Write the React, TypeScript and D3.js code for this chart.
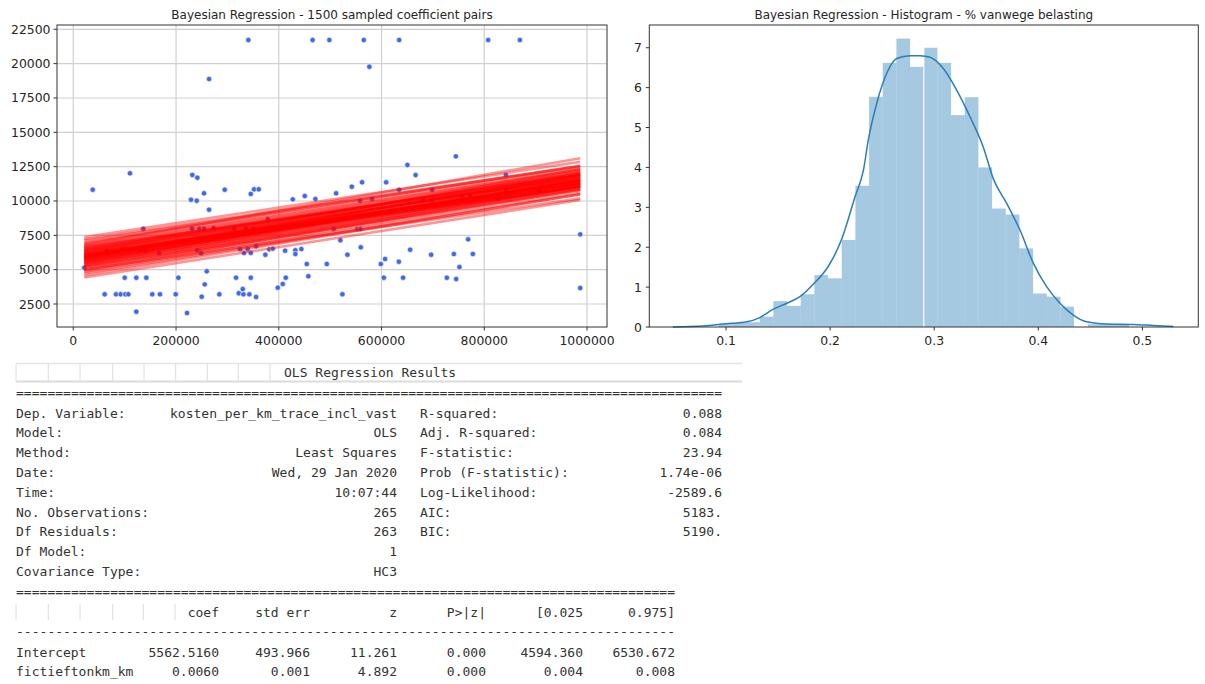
import React from 'react';
import * as d3 from 'd3';

// ---------- Scatter data (fictieftonkm_km vs kosten_per_km_trace_incl_vast) ----------
const costX = [
  110400, 231700, 241500, 264300, 340800, 465800, 498500, 565500, 576400, 634300,
  807600, 869300, 744700, 650400, 666400, 842100, 37800, 254500, 229200, 240300,
  264300, 294800, 345500, 351900, 361000, 427300, 471300, 136300, 231200, 245400,
  254500, 273400, 313500, 378600, 336300, 350500, 394700, 65000, 95400, 129900,
  141000, 166900, 241500, 248700, 324600, 332400, 339600, 345500, 355800, 373900,
  381700, 388300, 412300, 432300, 432300, 444000, 454500, 457600, 493500, 21400,
  259800, 255900, 100100, 122700, 142200, 204500, 316800, 345500, 413600, 61100,
  83200, 92300, 101300, 107100, 153800, 168800, 199400, 250000, 284300, 322100,
  329900, 331100, 342700, 355800, 122700, 221400, 398000, 407800, 562200, 542200,
  609000, 511600, 450600, 558300, 581700, 634300, 698500, 681600, 698500, 756400,
  772500, 827100, 842600, 906300, 507100, 553100, 558900, 519900, 768600, 986800,
  533600, 559700, 655700, 607000, 598600, 633700, 696600, 740800, 777800, 751700,
  604500, 642000, 727200, 745300, 523900, 986800,
];
const costY = [
  12015, 11900, 11695, 18880, 21720, 21720, 21720, 21720, 19775, 21720,
  21720, 21720, 13250, 12620, 11890, 11890, 10820, 10560, 10090, 10020,
  9365, 10820, 10510, 10850, 10850, 10120, 10144, 7980, 7980, 7980,
  7980, 8030, 7980, 8670, 7980, 7980, 7980, 6340, 6500, 6430,
  6340, 6210, 6410, 6210, 6480, 6210, 6500, 6210, 6700, 6090,
  6480, 6530, 6380, 6410, 6140, 6500, 5410, 4520, 5410, 5140,
  4880, 3930, 4415, 4415, 4415, 4415, 4415, 4415, 4415, 3206,
  3206, 3206, 3206, 3206, 3206, 3206, 3206, 3030, 3206, 3280,
  3590, 3206, 3206, 3010, 1940, 1845, 3690, 3960, 11360, 11040,
  11360, 10560, 10360, 10020, 10144, 10820, 10820, 10144, 10070, 10380,
  10380, 10144, 10820, 10820, 7960, 7960, 7960, 7140, 7210, 7570,
  6090, 6630, 6450, 5780, 5410, 5580, 6090, 6140, 6140, 5190,
  4415, 4415, 4415, 4320, 3206, 3665,
];

// ---------- Sampled posterior coefficient pairs (subset shown) ----------
const sampleIntercepts = [
  5850, 5550, 6400, 4900, 6150, 5700, 6850, 5250, 6000, 5400,
  6550, 4600, 5800, 6250, 5600, 6700, 5100, 5950, 5500, 7250,
  5750, 6300, 5000, 6100, 5350, 5900, 4800, 6450, 5650, 6200,
  5200, 7000, 5450, 6050, 4300, 6350, 5775, 6600, 5300, 5875,
  4450, 6025, 5625, 6500, 5150, 5925, 5725, 6800, 4850, 6125,
  5525, 6650, 5375, 5825, 5050, 6275, 5675, 7100, 4700, 5975,
];
const sampleSlopes = [
  0.005704, 0.006104, 0.005847, 0.005363, 0.006018, 0.005619, 0.005790, 0.006332, 0.005505, 0.005904,
  0.005163, 0.005961, 0.006161, 0.005733, 0.005562, 0.006503, 0.005819, 0.005420, 0.006047, 0.005676,
  0.006246, 0.005762, 0.005876, 0.004992, 0.005990, 0.005534, 0.006075, 0.005648, 0.006389, 0.005477,
  0.005933, 0.005591, 0.006189, 0.005306, 0.005861, 0.005747, 0.006645, 0.005690, 0.005804, 0.005249,
  0.006132, 0.005776, 0.005918, 0.005448, 0.006032, 0.005078, 0.005833, 0.005662, 0.006275, 0.005605,
  0.005890, 0.005719, 0.006446, 0.005391, 0.005947, 0.005576, 0.006218, 0.005519, 0.005975, 0.005334,
];

// ---------- Histogram of "% vanwege belasting" ----------
const histStart = 0.093;
const histBinWidth = 0.01313;
const histDensity = [
  0.07, 0.1, 0.12, 0.26, 0.65, 0.53, 0.82, 1.3, 1.22, 2.18,
  3.54, 5.77, 6.62, 7.23, 6.52, 7.0, 6.62, 5.31, 5.76, 4.0,
  2.97, 2.82, 1.97, 0.84, 0.76, 0.51, 0, 0.07, 0.07, 0.07,
];
const kdeX = [
  0.049, 0.078, 0.1, 0.12, 0.132, 0.145, 0.158, 0.171, 0.1845, 0.198,
  0.2108, 0.224, 0.232, 0.2367, 0.2448, 0.2544, 0.264, 0.2768, 0.2864, 0.296,
  0.3087, 0.3216, 0.3344, 0.347, 0.357, 0.3696, 0.3824, 0.3952, 0.408, 0.421,
  0.4336, 0.4465, 0.4657, 0.4913, 0.5105, 0.5297,
];
const kdeY = [
  0.0, 0.025, 0.08, 0.13, 0.23, 0.44, 0.59, 0.76, 1.09, 1.51,
  2.18, 3.27, 3.93, 4.69, 5.61, 6.36, 6.73, 6.8, 6.8, 6.76,
  6.48, 5.94, 5.27, 4.52, 3.7, 3.1, 2.43, 1.6, 1.01, 0.59,
  0.3, 0.13, 0.075, 0.065, 0.035, 0.01,
];
const markerValue = 0.29;

// ---------- Ticks ----------
const scatterYTicks = [2500, 5000, 7500, 10000, 12500, 15000, 17500, 20000, 22500];
const scatterXTicks = [0, 200000, 400000, 600000, 800000, 1000000];
const histYTicks = [0, 1, 2, 3, 4, 5, 6, 7];
const histXTicks = [0.1, 0.2, 0.3, 0.4, 0.5];

// ---------- OLS summary text ----------
const leftLabels = ['Dep. Variable:', 'Model:', 'Method:', 'Date:', 'Time:', 'No. Observations:', 'Df Residuals:', 'Df Model:', 'Covariance Type:'];
const leftValues = ['kosten_per_km_trace_incl_vast', 'OLS', 'Least Squares', 'Wed, 29 Jan 2020', '10:07:44', '265', '263', '1', 'HC3'];
const rightLabels = ['R-squared:', 'Adj. R-squared:', 'F-statistic:', 'Prob (F-statistic):', 'Log-Likelihood:', 'AIC:', 'BIC:'];
const rightValues = ['0.088', '0.084', '23.94', '1.74e-06', '-2589.6', '5183.', '5190.'];
const coefHeaders = ['coef', 'std err', 'z', 'P>|z|', '[0.025', '0.975]'];
const coefNames = ['Intercept', 'fictieftonkm_km'];
const coefValues = [
  ['5562.5160', '493.966', '11.261', '0.000', '4594.360', '6530.672'],
  ['0.0060', '0.001', '4.892', '0.000', '0.004', '0.008'],
];

const SANS = 'DejaVu Sans, sans-serif';
const MONO = 'DejaVu Sans Mono, monospace';
const AXIS = '#333333';
const TXT = '#262626';

export default function App() {
  // ---- scatter panel ----
  const xL = d3.scaleLinear().domain([-31700, 1038900]).range([57, 607]);
  const yL = d3.scaleLinear().domain([826, 22813]).range([327, 25]);
  const xMin = d3.min(costX) as number;
  const xMax = d3.max(costX) as number;

  // ---- histogram panel ----
  const xH = d3.scaleLinear().domain([0.0263, 0.5537]).range([649.3, 1198.3]);
  const yH = d3.scaleLinear().domain([0, 7.57]).range([327, 25]);
  const kdeLine = d3
    .line<number>()
    .x((_, i) => xH(kdeX[i]))
    .y((d) => yH(d))
    .curve(d3.curveMonotoneX);

  // ---- table geometry ----
  const rowY = (i: number) => 413 + i * 19.8;
  const coefEnds = [219, 310, 397, 486, 583, 675];
  const hdrDividers = [16, 48.3, 80, 112.7, 144, 175.7, 207.3, 238.3, 270];
  const coefDividers = [16, 48.3, 80, 112.7, 143.3, 175];

  return (
    <div style={{ position: 'absolute', left: 0, top: 0, width: 1205, height: 684, background: '#fff' }}>
      <svg width={1205} height={684} viewBox="0 0 1205 684" style={{ display: 'block' }}>
        <rect x={0} y={0} width={1205} height={684} fill="#fff" />

        {/* ===== Scatter panel ===== */}
        <text x={332} y={19} textAnchor="middle" fontFamily={SANS} fontSize={12} fill={TXT}>
          Bayesian Regression - 1500 sampled coefficient pairs
        </text>
        {scatterXTicks.map((t) => (
          <line key={'gx' + t} x1={xL(t)} x2={xL(t)} y1={25} y2={327} stroke="#d0d0d0" strokeWidth={1.2} />
        ))}
        {scatterYTicks.map((t) => (
          <line key={'gy' + t} x1={57} x2={607} y1={yL(t)} y2={yL(t)} stroke="#d0d0d0" strokeWidth={1.2} />
        ))}
        {costX.map((x, i) => (
          <circle key={'p' + i} cx={xL(x)} cy={yL(costY[i])} r={2.7} fill="#4169e1" stroke="#ffffff" strokeWidth={0.6} />
        ))}
        {sampleIntercepts.map((a, i) => (
          <line
            key={'l' + i}
            x1={xL(xMin)}
            x2={xL(xMax)}
            y1={yL(a + sampleSlopes[i] * xMin)}
            y2={yL(a + sampleSlopes[i] * xMax)}
            stroke="#ff0000"
            strokeOpacity={0.42}
            strokeWidth={2.6}
          />
        ))}
        <rect x={57} y={25} width={550} height={302} fill="none" stroke={AXIS} strokeWidth={1} />
        {scatterYTicks.map((t) => (
          <g key={'ty' + t}>
            <line x1={53.5} x2={57} y1={yL(t)} y2={yL(t)} stroke={AXIS} />
            <text x={50.5} y={yL(t) + 4.5} textAnchor="end" fontFamily={SANS} fontSize={12.4} fill={TXT}>
              {t}
            </text>
          </g>
        ))}
        {scatterXTicks.map((t) => (
          <g key={'tx' + t}>
            <line x1={xL(t)} x2={xL(t)} y1={327} y2={330.5} stroke={AXIS} />
            <text x={xL(t)} y={345} textAnchor="middle" fontFamily={SANS} fontSize={12.4} fill={TXT}>
              {t}
            </text>
          </g>
        ))}

        {/* ===== Histogram panel ===== */}
        <text x={923.8} y={18.5} textAnchor="middle" fontFamily={SANS} fontSize={12} fill={TXT}>
          Bayesian Regression - Histogram - % vanwege belasting
        </text>
        {histDensity.map((h, i) =>
          h > 0 ? (
            <rect
              key={'b' + i}
              x={xH(histStart + i * histBinWidth)}
              width={xH(histStart + (i + 1) * histBinWidth) - xH(histStart + i * histBinWidth)}
              y={yH(h)}
              height={yH(0) - yH(h)}
              fill="#1f77b4"
              fillOpacity={0.4}
            />
          ) : null
        )}
        <line x1={xH(markerValue)} x2={xH(markerValue)} y1={25} y2={327} stroke="#ffffff" strokeWidth={1.2} />
        <path d={kdeLine(kdeY) || ''} fill="none" stroke="#2a7dba" strokeWidth={1.5} />
        <rect x={649.3} y={25} width={549} height={302} fill="none" stroke={AXIS} strokeWidth={1} />
        {histYTicks.map((t) => (
          <g key={'hy' + t}>
            <line x1={645.8} x2={649.3} y1={yH(t)} y2={yH(t)} stroke={AXIS} />
            <text x={642} y={yH(t) + 4.5} textAnchor="end" fontFamily={SANS} fontSize={12.4} fill={TXT}>
              {t}
            </text>
          </g>
        ))}
        {histXTicks.map((t) => (
          <g key={'hx' + t}>
            <line x1={xH(t)} x2={xH(t)} y1={327} y2={330.5} stroke={AXIS} />
            <text x={xH(t)} y={345} textAnchor="middle" fontFamily={SANS} fontSize={12.4} fill={TXT}>
              {t.toFixed(1)}
            </text>
          </g>
        ))}

        {/* ===== OLS summary ===== */}
        <g fontFamily={MONO} fontSize={13} fill="#333">
          <line x1={16} x2={742} y1={363.5} y2={363.5} stroke="#e3e3e3" strokeWidth={1.5} />
          <line x1={16} x2={742} y1={381.5} y2={381.5} stroke="#dcdcdc" strokeWidth={2} />
          {hdrDividers.map((x) => (
            <line key={'hd' + x} x1={x} x2={x} y1={363.5} y2={381.5} stroke="#dcdcdc" strokeWidth={1} />
          ))}
          <text x={284} y={376.5}>OLS Regression Results</text>

          <text x={16} y={397} textLength={706} lengthAdjust="spacing">{'='.repeat(90)}</text>
          {leftLabels.map((s, i) => (
            <text key={'ll' + i} x={16} y={rowY(i) + 4.5} xmlSpace="preserve">{s}</text>
          ))}
          {leftValues.map((s, i) => (
            <text key={'lv' + i} x={397} y={rowY(i) + 4.5} textAnchor="end" xmlSpace="preserve">{s}</text>
          ))}
          {rightLabels.map((s, i) => (
            <text key={'rl' + i} x={420} y={rowY(i) + 4.5} xmlSpace="preserve">{s}</text>
          ))}
          {rightValues.map((s, i) => (
            <text key={'rv' + i} x={722} y={rowY(i) + 4.5} textAnchor="end">{s}</text>
          ))}

          <text x={16} y={596} textLength={659} lengthAdjust="spacing">{'='.repeat(84)}</text>
          {coefDividers.map((x) => (
            <line key={'cd' + x} x1={x} x2={x} y1={604} y2={620} stroke="#dcdcdc" strokeWidth={1} />
          ))}
          {coefHeaders.map((s, j) => (
            <text key={'ch' + j} x={coefEnds[j]} y={616.5} textAnchor="end">{s}</text>
          ))}
          <text x={16} y={636} textLength={659} lengthAdjust="spacing">{'-'.repeat(84)}</text>
          {coefNames.map((n, i) => (
            <g key={'cr' + i}>
              <text x={16} y={656.5 + i * 19.8}>{n}</text>
              {coefValues[i].map((v, j) => (
                <text key={'cv' + j} x={coefEnds[j]} y={656.5 + i * 19.8} textAnchor="end">{v}</text>
              ))}
            </g>
          ))}
        </g>
      </svg>
    </div>
  );
}
